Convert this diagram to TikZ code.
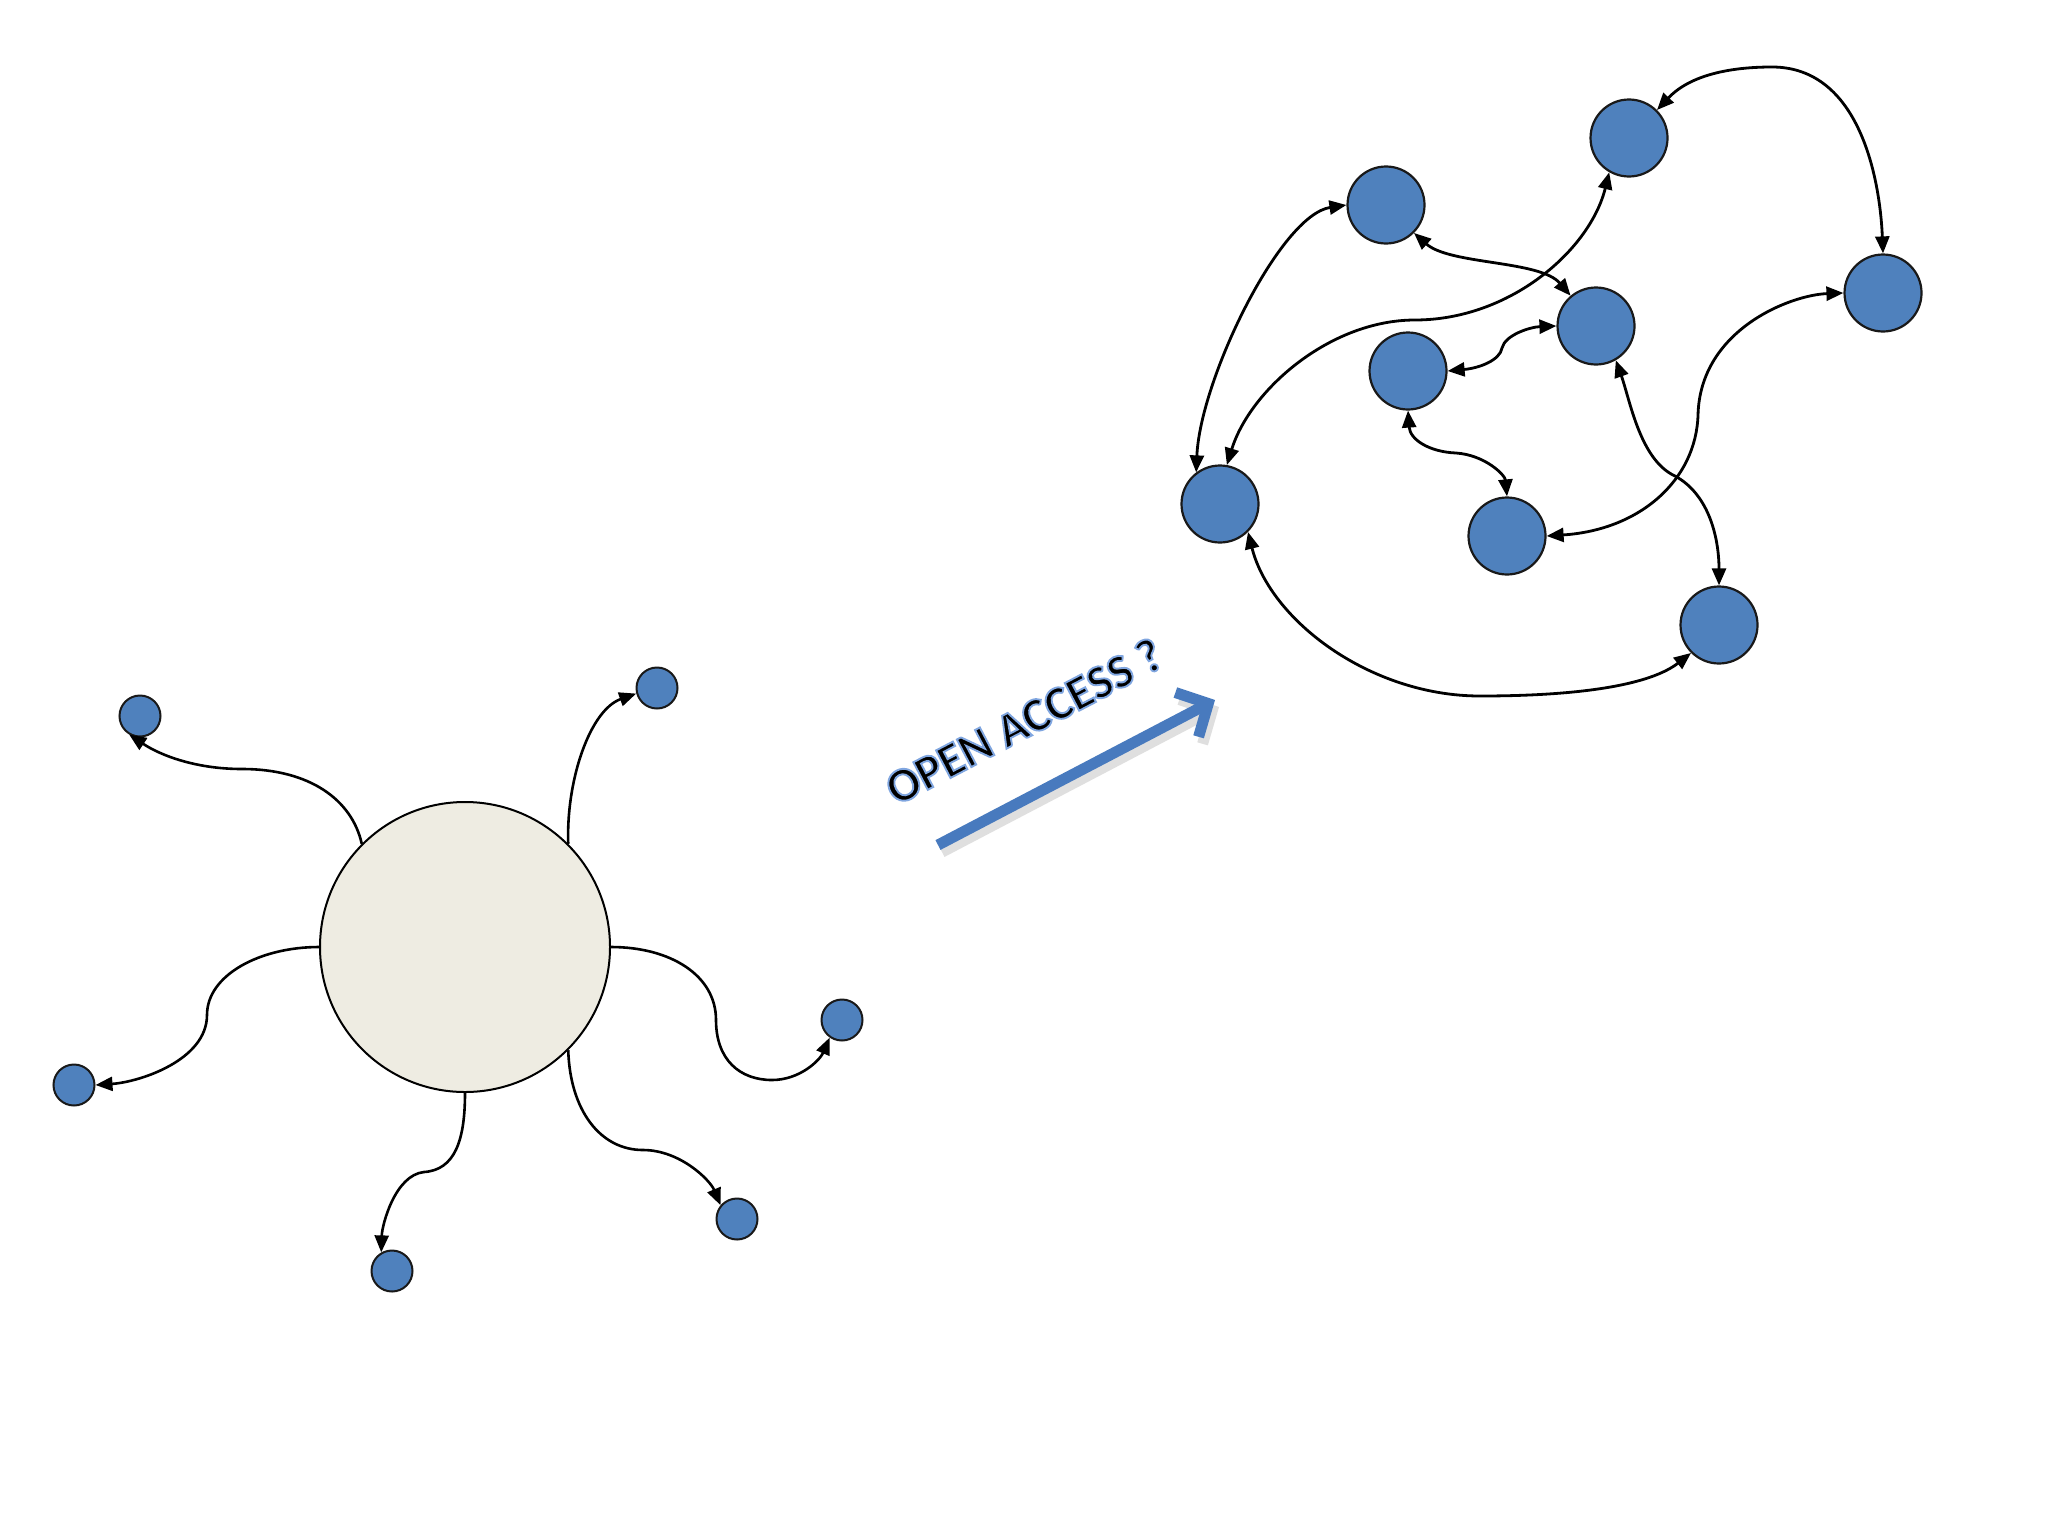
\documentclass[tikz,border=0pt]{standalone}
\usepackage{fontspec}
\newfontfamily\oafont{Carlito}
\usetikzlibrary{arrows.meta}
\definecolor{nodeblue}{RGB}{79,129,189}
\definecolor{hubfill}{RGB}{238,236,226}
\definecolor{oablue}{RGB}{72,122,190}
\newcommand{\glowtext}[1]{\special{pdf:code q 2 Tr 0.95 w 0.5 0.65 0.88 RG}#1\special{pdf:code Q}}
\begin{document}
\begin{tikzpicture}[x=0.5pt,y=-0.5pt,
  hub/.style={circle,draw=black,line width=1pt,fill=hubfill,minimum size=145pt,inner sep=0pt},
  leaf/.style={circle,draw=black!90,line width=1pt,fill=nodeblue,minimum size=20.5pt,inner sep=0pt},
  peer/.style={circle,draw=black!90,line width=1.1pt,fill=nodeblue,minimum size=38.5pt,inner sep=0pt},
  link/.style={draw=black,line width=1.3pt,-{Triangle[length=8.5pt,width=7pt]}},
  biline/.style={draw=black,line width=1.4pt,{Triangle[length=8.5pt,width=7pt]}-{Triangle[length=8.5pt,width=7pt]}},
  oaarrow/.style={line width=5.5pt,-{Straight Barb[length=12pt,width=25pt]}},
]
\useasboundingbox[fill=white] (0,0) rectangle (2048,1536);

% ---------- left: hub and spokes ----------
\node[hub] (hub) at (465,947) {};
\node[leaf] (tl) at (140,716) {};
\node[leaf] (tr) at (657,688) {};
\node[leaf] (lf) at (74,1085) {};
\node[leaf] (rt) at (842,1020) {};
\node[leaf] (bt) at (392,1271) {};
\node[leaf] (br) at (737,1219) {};

\draw[link] (hub.135) .. controls (352,800) and (310,769) .. (242,769)
  .. controls (195,769) and (160,755) .. (tl.240);
\draw[link] (hub.45) .. controls (566,780) and (590,710) .. (tr.195);
\draw[link] (hub.west) .. controls (260,947) and (207,975) .. (207,1015)
  .. controls (207,1060) and (140,1082) .. (lf.east);
\draw[link] (hub.east) .. controls (670,947) and (716,975) .. (716,1020)
  .. controls (716,1060) and (740,1080) .. (772,1080)
  .. controls (800,1080) and (820,1060) .. (rt.235);
\draw[link] (hub.south) .. controls (465,1140) and (455,1170) .. (424,1172)
  .. controls (395,1175) and (382,1225) .. (bt.120);
\draw[link] (hub.315) .. controls (570,1110) and (600,1150) .. (643,1150)
  .. controls (680,1150) and (710,1180) .. (br.140);

% ---------- right: network ----------
\node[peer] (A) at (1386,205) {};
\node[peer] (B) at (1629,138) {};
\node[peer] (C) at (1883,293) {};
\node[peer] (D) at (1596,326) {};
\node[peer] (E) at (1408,371) {};
\node[peer] (F) at (1220,504) {};
\node[peer] (G) at (1507,536) {};
\node[peer] (H) at (1719,625) {};

\draw[biline] (F.127) .. controls (1200,380) and (1280,215) .. (A.west);
\draw[biline] (F.80) .. controls (1250,390) and (1330,320) .. (1415,320)
  .. controls (1510,320) and (1590,250) .. (B.240);
\draw[biline] (A.315) .. controls (1450,265) and (1540,260) .. (D.130);
\draw[biline] (E.east) .. controls (1480,368) and (1500,360) .. (1502,348)
  .. controls (1505,335) and (1530,327) .. (D.west);
\draw[biline] (E.south) .. controls (1410,440) and (1430,452) .. (1456,453)
  .. controls (1485,455) and (1505,475) .. (G.north);
\draw[biline] (D.300) .. controls (1630,400) and (1640,460) .. (1675,476)
  .. controls (1710,495) and (1719,540) .. (H.north);
\draw[biline] (G.east) .. controls (1640,530) and (1696,480) .. (1698,415)
  .. controls (1700,330) and (1790,295) .. (C.west);
\draw[biline] (B.45) .. controls (1690,75) and (1730,67) .. (1772,67)
  .. controls (1860,67) and (1880,180) .. (C.north);
\draw[biline] (F.315) .. controls (1270,620) and (1370,696) .. (1480,696)
  .. controls (1580,696) and (1650,685) .. (H.225);

% ---------- middle: open access arrow ----------
\coordinate (oatail) at (938,845);
\coordinate (oatip) at (1215,700);
\draw[oaarrow,gray!25] ([shift={(4,7)}]oatail) -- ([shift={(4,7)}]oatip);
\draw[oaarrow,oablue] (oatail) -- (oatip);
\node[rotate=27.6,font=\oafont\bfseries\fontsize{24}{28}\selectfont,inner sep=0pt,text=black] (oa) at (1024,721)
  {\glowtext{OPEN ACCESS ?}};
\end{tikzpicture}
\end{document}
